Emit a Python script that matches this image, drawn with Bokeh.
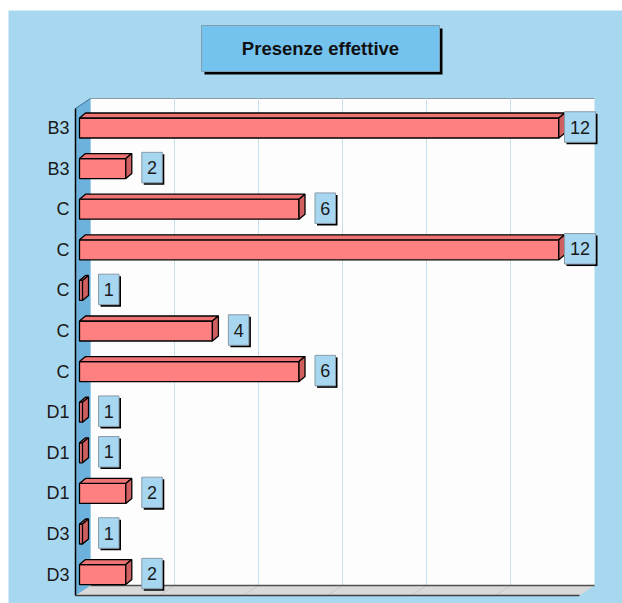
from bokeh.plotting import figure
from bokeh.models import Range1d, FixedTicker
from bokeh.core.properties import value
from bokeh.embed import file_html
from bokeh.resources import INLINE

# ---------------- data ----------------
title_text = "Presenze effettive"
categories = ["B3", "B3", "C", "C", "C", "C", "C", "D1", "D1", "D1", "D3", "D3"]
values = [12, 2, 6, 12, 1, 4, 6, 1, 1, 2, 1, 2]

# ---------------- scale helpers (pixel -> data units) ----------------
PXX = 43.3     # px per value unit
PXY = 40.6     # px per category row
X0_PX = 38.7   # page x of value 0 on the bar front plane
Y0_PX = 127.5  # page y of the first row centre


def vx(px):
    return (px - X0_PX) / PXX


def ry(py):
    return (py - Y0_PX) / PXY


def dvx(px):
    return px / PXX


def dry(py):
    return py / PXY


BG = "#a8d8ef"
FONT = "Liberation Sans"

p = figure(width=614, height=593, output_backend="svg", toolbar_location=None,
           margin=(10, 0, 0, 8),
           x_range=Range1d(vx(8), vx(622)), y_range=Range1d(ry(603), ry(10)),
           x_axis_location=None, y_axis_location="left",
           min_border_left=0, min_border_right=0, min_border_top=0, min_border_bottom=0)
p.background_fill_color = BG
p.border_fill_color = BG
p.outline_line_color = None
p.xgrid.visible = False
p.ygrid.visible = False

n = len(values)
p.yaxis.fixed_location = vx(72)
p.yaxis.ticker = FixedTicker(ticks=list(range(n)))
p.yaxis.major_label_overrides = {i: c for i, c in enumerate(categories)}
p.yaxis.axis_line_color = None
p.yaxis.major_tick_line_color = None
p.yaxis.minor_tick_line_color = None
p.yaxis.major_tick_out = 0
p.yaxis.major_tick_in = 0
p.yaxis.major_label_standoff = 3
p.yaxis.major_label_text_font = FONT
p.yaxis.major_label_text_font_size = "18px"
p.yaxis.major_label_text_color = "#1a1a1a"

# ---------------- title box ----------------
tl, tr, tt, tb = vx(201), vx(439), ry(25), ry(71)
p.quad(left=tl + dvx(3), right=tr + dvx(3), top=tt + dry(3), bottom=tb + dry(3),
       fill_color="black", line_color=None)
p.quad(left=tl, right=tr, top=tt, bottom=tb, fill_color="#74c3ef",
       line_color="#7f9db5", line_width=1)
p.text(x=[(tl + tr) / 2], y=[(tt + tb) / 2], text=[title_text],
       text_font=value(FONT), text_font_size="18.5px", text_font_style="bold",
       text_align="center", text_baseline="middle", text_color="#111111")

# ---------------- 3D walls ----------------
AX = vx(75)            # front plane left (value axis start)
AXR = vx(579)          # front plane right
FT, FB = ry(108), ry(595)
WDX, WDY = dvx(15), dry(-10)

# back wall
p.quad(left=AX + WDX, right=AXR + WDX, top=FT + WDY, bottom=FB + WDY,
       fill_color="#fdfdfd", line_color=None)
p.line(x=[AX + WDX, AXR + WDX], y=[FT + WDY, FT + WDY], line_color="#8c9aa4", line_width=1)

# back-wall grid lines and floor grid
step = dvx(84)
gx = [AX + WDX + k * step for k in range(1, 6)]
p.multi_line(xs=[[g, g] for g in gx], ys=[[FT + WDY, FB + WDY] for _ in gx],
             line_color="#c6e0ee", line_width=1)

# floor
p.patch(x=[AX, AX + WDX, AXR + WDX, AXR], y=[FB, FB + WDY, FB + WDY, FB],
        fill_color="#d9d9d9", line_color=None)
p.multi_line(xs=[[g, g - WDX] for g in gx], ys=[[FB + WDY, FB] for _ in gx],
             line_color="#c4c8cc", line_width=1)
p.line(x=[AX + WDX, AXR + WDX], y=[FB + WDY, FB + WDY], line_color="#505050", line_width=1.3)
p.line(x=[AX, AXR], y=[FB, FB], line_color="#404040", line_width=1.3)

# left wall
p.patch(x=[AX, AX + WDX, AX + WDX, AX], y=[FT, FT + WDY, FB + WDY, FB],
        fill_color="#6cb2dc", line_color=None)
p.line(x=[AX, AX + WDX], y=[FT, FT + WDY], line_color="#3f6f8f", line_width=1)
p.line(x=[AX, AX], y=[FT, FB], line_color="black", line_width=1.5)

# ---------------- bars ----------------
BASE = vx(79)
H = dry(10)
DX, DY = dvx(6), dry(-5)
rows = list(range(n))

p.quad(left=[BASE] * n, right=values, top=[r - H for r in rows], bottom=[r + H for r in rows],
       fill_color="#ff8080", line_color="black", line_width=1.3)

top_xs, top_ys, side_xs, side_ys = [], [], [], []
for r, v in zip(rows, values):
    yt, yb = r - H, r + H
    top_xs.append([BASE, BASE + DX, v + DX, v])
    top_ys.append([yt, yt + DY, yt + DY, yt])
    side_xs.append([v, v + DX, v + DX, v])
    side_ys.append([yt, yt + DY, yb + DY, yb])
p.patches(xs=top_xs, ys=top_ys, fill_color="#ee7474", line_color="black", line_width=1.3)
p.patches(xs=side_xs, ys=side_ys, fill_color="#d06060", line_color="black", line_width=1.3)

# ---------------- value labels ----------------
RIGHT_LIMIT = vx(595)
bl, br, bt, bb, cx, cy, txt = [], [], [], [], [], [], []
for r, v in zip(rows, values):
    s = str(v)
    w = dvx(10 + 10.5 * len(s))
    left = v + DX + dvx(10)
    if left + w > RIGHT_LIMIT:
        left = RIGHT_LIMIT - w
    c = r - dry(1)
    bl.append(left)
    br.append(left + w)
    bt.append(c - dry(15.25))
    bb.append(c + dry(15.25))
    cx.append(left + w / 2)
    cy.append(c)
    txt.append(s)

p.quad(left=[b + dvx(2) for b in bl], right=[b + dvx(2) for b in br],
       top=[t + dry(2) for t in bt], bottom=[b + dry(2) for b in bb],
       fill_color="black", line_color=None)
p.quad(left=bl, right=br, top=bt, bottom=bb, fill_color="#a6d6f0",
       line_color="#8a9aa8", line_width=1)
p.text(x=cx, y=cy, text=txt, text_font=value(FONT), text_font_size="18px",
       text_align="center", text_baseline="middle", text_color="#1a1a1a")

open("out.html", "w").write(file_html(p, INLINE))
